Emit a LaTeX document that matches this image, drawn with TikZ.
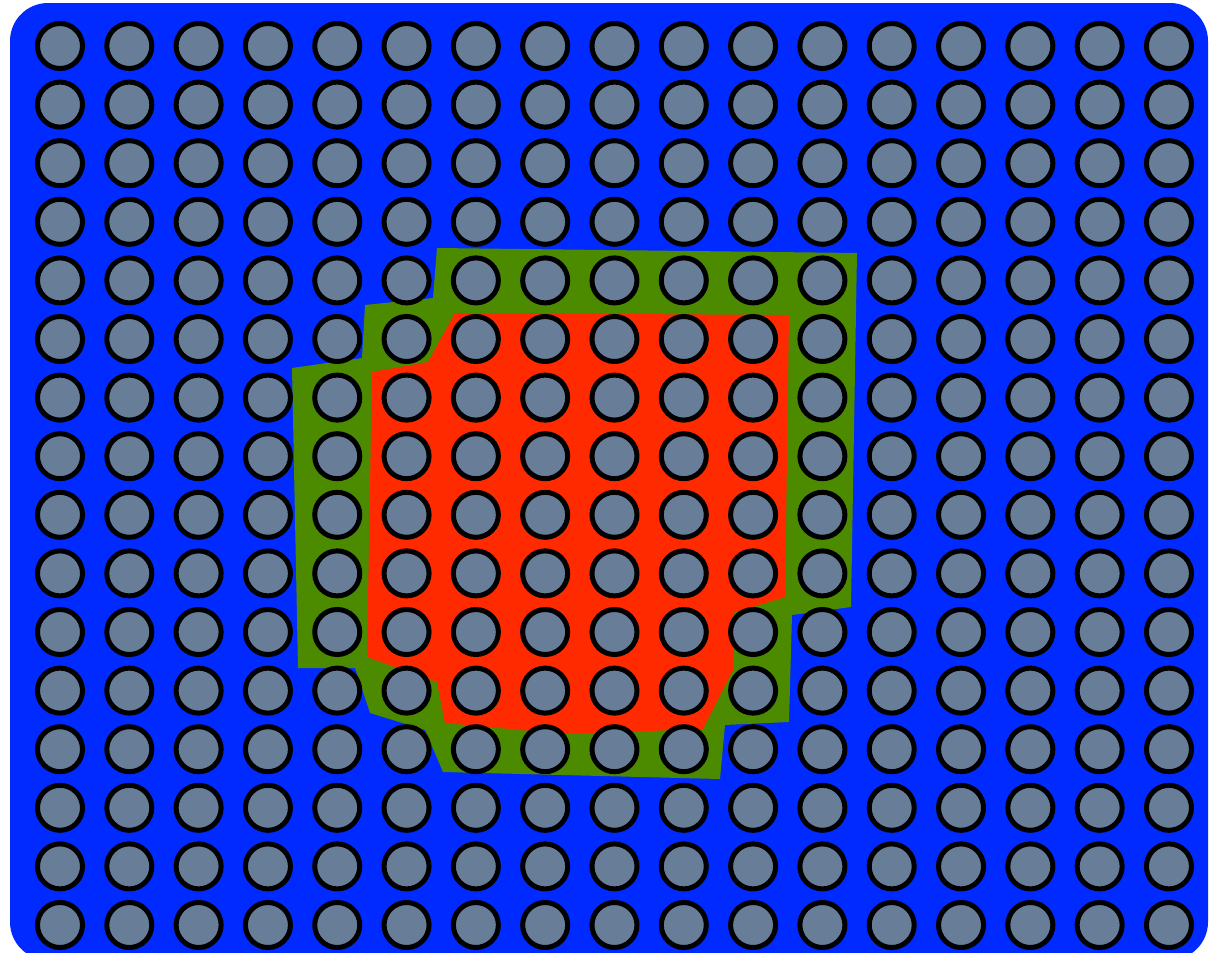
\documentclass[tikz,border=0pt]{standalone}
\usepackage{xcolor}
\usepackage{tikz}
\definecolor{boardblue}{RGB}{0,42,255}
\definecolor{zonegreen}{RGB}{76,138,0}
\definecolor{zonered}{RGB}{255,42,0}
\definecolor{pinfill}{RGB}{104,126,152}
\tikzset{
  board/.style={fill=boardblue,rounded corners=28.5pt},
  outerzone/.style={fill=zonegreen},
  innerzone/.style={fill=zonered},
  pin/.style={circle,draw=black,line width=3.75pt,fill=pinfill,
              inner sep=0pt,minimum size=33.75pt},
}

\begin{document}
\begin{tikzpicture}[x=0.75pt,y=-0.75pt]
  \useasboundingbox (0,0) rectangle (1218,953);
  % board (runs past the lower edge)
  \begin{scope}
    \clip (0,0) rectangle (1218,953);
    \fill[board] (10,3) rectangle (1208,960);
  \end{scope}
  % outer zone
  \fill[outerzone] (437,248) -- (857,253) -- (851,607) -- (792,615) -- (789,722)
    -- (725,725) -- (720,779) -- (443,772) -- (425,730) -- (370,713) -- (355,668)
    -- (298,668) -- (292,368) -- (362,358) -- (365,305) -- (433,298) -- cycle;
  % inner zone
  \fill[innerzone] (455,313) -- (789,315) -- (785,597) -- (733,613) -- (733,670)
    -- (703,729) -- (565,734) -- (445,723) -- (437,682) -- (367,657) -- (372,372)
    -- (428,362) -- cycle;
  % grid of pins
  \foreach \i in {1,...,17}
    \foreach \j in {1,...,16}
      \node[pin] (p-\i-\j) at ({60+69.31*(\i-1)},{46+58.6*(\j-1)}) {};
\end{tikzpicture}
\end{document}
